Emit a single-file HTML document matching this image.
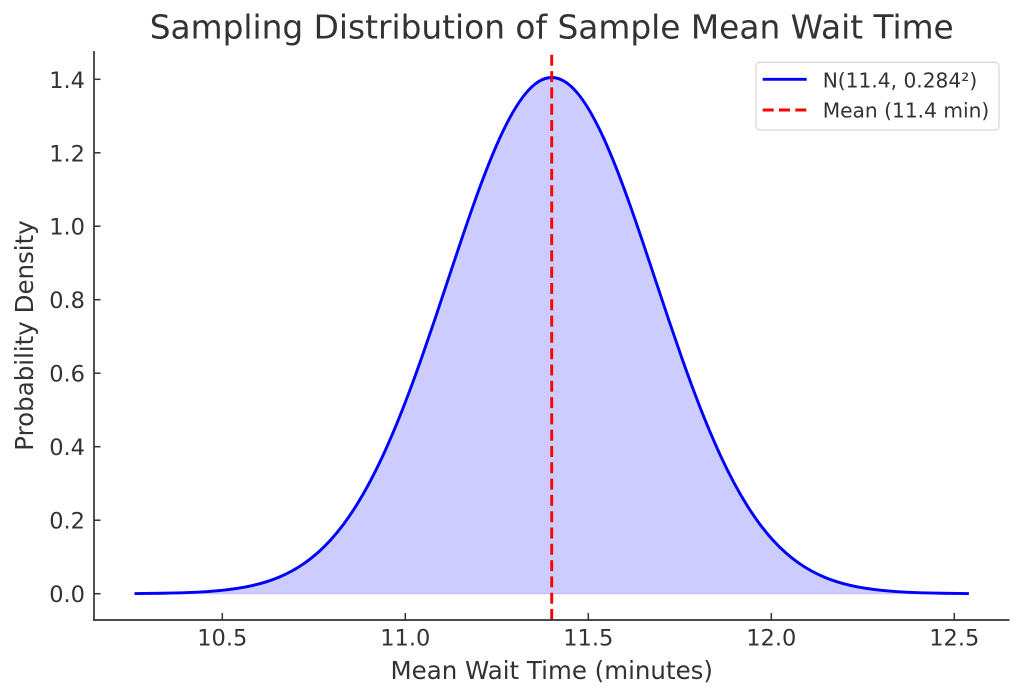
<!DOCTYPE html>
<html>
<head>
<meta charset="utf-8">
<style>
  html, body { margin: 0; padding: 0; background: #ffffff; }
  svg { display: block; }
  text { font-family: "DejaVu Sans", "Liberation Sans", sans-serif; fill: #333333; }
</style>
</head>
<body>
<svg width="1024" height="699" viewBox="0 0 1024 699" xmlns="http://www.w3.org/2000/svg">
  <rect x="0" y="0" width="1024" height="699" fill="#ffffff"/>
  <defs>
    <path id="curve" d="M135.94,593.53 C144.60,593.47 153.26,593.38 161.92,593.24 C170.58,593.10 179.25,592.90 187.91,592.57 C196.57,592.24 205.23,591.78 213.89,591.07 C222.55,590.36 231.22,589.40 239.88,587.97 C244.21,587.25 248.54,586.41 252.87,585.42 C257.20,584.43 261.53,583.28 265.86,581.93 C270.19,580.58 274.53,579.04 278.86,577.24 C283.19,575.44 287.52,573.38 291.85,571.02 C296.18,568.66 300.51,565.98 304.84,562.94 C309.17,559.90 313.50,556.48 317.83,552.63 C322.16,548.78 326.50,544.50 330.83,539.72 C335.16,534.94 339.49,529.66 343.82,523.84 C348.15,518.02 352.48,511.65 356.81,504.70 C361.14,497.75 365.47,490.20 369.80,482.06 C374.13,473.92 378.47,465.18 382.80,455.85 C387.13,446.52 391.46,436.58 395.79,426.11 C400.12,415.64 404.45,404.62 408.78,393.13 C413.11,381.64 417.44,369.68 421.77,357.37 C426.10,345.06 430.44,332.40 434.77,319.55 C439.10,306.70 443.43,293.65 447.76,280.61 C452.09,267.57 456.42,254.51 460.75,241.68 C465.08,228.85 469.41,216.22 473.74,204.05 C478.07,191.88 482.41,180.15 486.74,169.09 C491.07,158.04 495.40,147.64 499.73,138.15 C504.06,128.66 508.39,120.07 512.72,112.55 C517.05,105.03 521.38,98.59 525.71,93.38 C530.04,88.17 534.38,84.19 538.71,81.52 C543.04,78.85 547.37,77.50 551.70,77.50 C556.03,77.50 560.36,78.85 564.69,81.52 C569.02,84.19 573.36,88.17 577.69,93.38 C582.02,98.59 586.35,105.03 590.68,112.55 C595.01,120.07 599.34,128.66 603.67,138.15 C608.00,147.64 612.33,158.04 616.66,169.09 C620.99,180.15 625.33,191.88 629.66,204.05 C633.99,216.22 638.32,228.85 642.65,241.68 C646.98,254.51 651.31,267.57 655.64,280.61 C659.97,293.65 664.30,306.70 668.63,319.55 C672.96,332.40 677.30,345.06 681.63,357.37 C685.96,369.68 690.29,381.64 694.62,393.13 C698.95,404.62 703.28,415.64 707.61,426.11 C711.94,436.58 716.27,446.52 720.60,455.85 C724.93,465.18 729.27,473.92 733.60,482.06 C737.93,490.20 742.26,497.75 746.59,504.70 C750.92,511.65 755.25,518.02 759.58,523.84 C763.91,529.66 768.24,534.94 772.57,539.72 C776.90,544.50 781.24,548.78 785.57,552.63 C789.90,556.48 794.23,559.90 798.56,562.94 C802.89,565.98 807.22,568.66 811.55,571.02 C815.88,573.38 820.21,575.44 824.54,577.24 C828.87,579.04 833.21,580.58 837.54,581.93 C841.87,583.28 846.20,584.43 850.53,585.42 C854.86,586.41 859.19,587.25 863.52,587.97 C872.18,589.40 880.85,590.36 889.51,591.07 C898.17,591.78 906.83,592.24 915.49,592.57 C924.15,592.90 932.82,593.10 941.48,593.24 C950.14,593.38 958.80,593.47 967.46,593.53"/>
  </defs>

  <!-- Fill under curve -->
  <use href="#curve" fill="rgba(0,0,255,0.2)" stroke="none"/>
  <line x1="135.94" y1="593.7" x2="967.46" y2="593.7" stroke="rgba(0,0,255,0.2)" stroke-width="1"/>

  <!-- Curve -->
  <use href="#curve" fill="none" stroke="#0000ff" stroke-width="2.9" stroke-linejoin="round" stroke-linecap="square"/>

  <!-- Mean dashed line -->
  <line x1="551.7" y1="620" x2="551.7" y2="51" stroke="#ff0000" stroke-width="2.9" stroke-dasharray="11 5.3"/>

  <!-- Spines -->
  <line x1="94" y1="51" x2="94" y2="620.8" stroke="#333333" stroke-width="1.7"/>
  <line x1="93.2" y1="620" x2="1009.5" y2="620" stroke="#333333" stroke-width="1.7"/>

  <!-- Y ticks (inward) -->
  <g stroke="#333333" stroke-width="1.5">
    <line x1="94" y1="593.7" x2="100.5" y2="593.7"/>
    <line x1="94" y1="520.2" x2="100.5" y2="520.2"/>
    <line x1="94" y1="446.7" x2="100.5" y2="446.7"/>
    <line x1="94" y1="373.2" x2="100.5" y2="373.2"/>
    <line x1="94" y1="299.7" x2="100.5" y2="299.7"/>
    <line x1="94" y1="226.2" x2="100.5" y2="226.2"/>
    <line x1="94" y1="152.8" x2="100.5" y2="152.8"/>
    <line x1="94" y1="79.3" x2="100.5" y2="79.3"/>
  </g>

  <!-- X ticks (inward) -->
  <g stroke="#333333" stroke-width="1.5">
    <line x1="222.3" y1="620" x2="222.3" y2="613"/>
    <line x1="405.3" y1="620" x2="405.3" y2="613"/>
    <line x1="588.3" y1="620" x2="588.3" y2="613"/>
    <line x1="771.3" y1="620" x2="771.3" y2="613"/>
    <line x1="954.3" y1="620" x2="954.3" y2="613"/>
  </g>

  <!-- Y tick labels -->
  <g font-size="22.5" text-anchor="end">
    <text x="85" y="602.2">0.0</text>
    <text x="85" y="528.7">0.2</text>
    <text x="85" y="455.2">0.4</text>
    <text x="85" y="381.7">0.6</text>
    <text x="85" y="308.2">0.8</text>
    <text x="85" y="234.7">1.0</text>
    <text x="85" y="161.3">1.2</text>
    <text x="85" y="87.8">1.4</text>
  </g>

  <!-- X tick labels -->
  <g font-size="22.5" text-anchor="middle">
    <text x="222.3" y="645.7">10.5</text>
    <text x="405.3" y="645.7">11.0</text>
    <text x="588.3" y="645.7">11.5</text>
    <text x="771.3" y="645.7">12.0</text>
    <text x="954.3" y="645.7">12.5</text>
  </g>

  <!-- Axis labels -->
  <text x="551.75" y="679" font-size="24.5" text-anchor="middle">Mean Wait Time (minutes)</text>
  <text transform="translate(33,335.5) rotate(-90)" x="0" y="0" font-size="24.5" text-anchor="middle">Probability Density</text>

  <!-- Title -->
  <text x="551.75" y="38.5" font-size="32.8" text-anchor="middle">Sampling Distribution of Sample Mean Wait Time</text>

  <!-- Legend -->
  <rect x="756" y="62.3" width="243" height="67.7" rx="4" ry="4" fill="rgba(255,255,255,0.8)" stroke="#cccccc" stroke-width="1"/>
  <line x1="762.7" y1="79.3" x2="806.7" y2="79.3" stroke="#0000ff" stroke-width="2.9"/>
  <line x1="762.7" y1="110" x2="806.7" y2="110" stroke="#ff0000" stroke-width="2.9" stroke-dasharray="11 5.3"/>
  <text x="822.7" y="87.3" font-size="20.2">N(11.4, 0.284²)</text>
  <text x="822.7" y="117.3" font-size="20.2">Mean (11.4 min)</text>
</svg>
</body>
</html>
